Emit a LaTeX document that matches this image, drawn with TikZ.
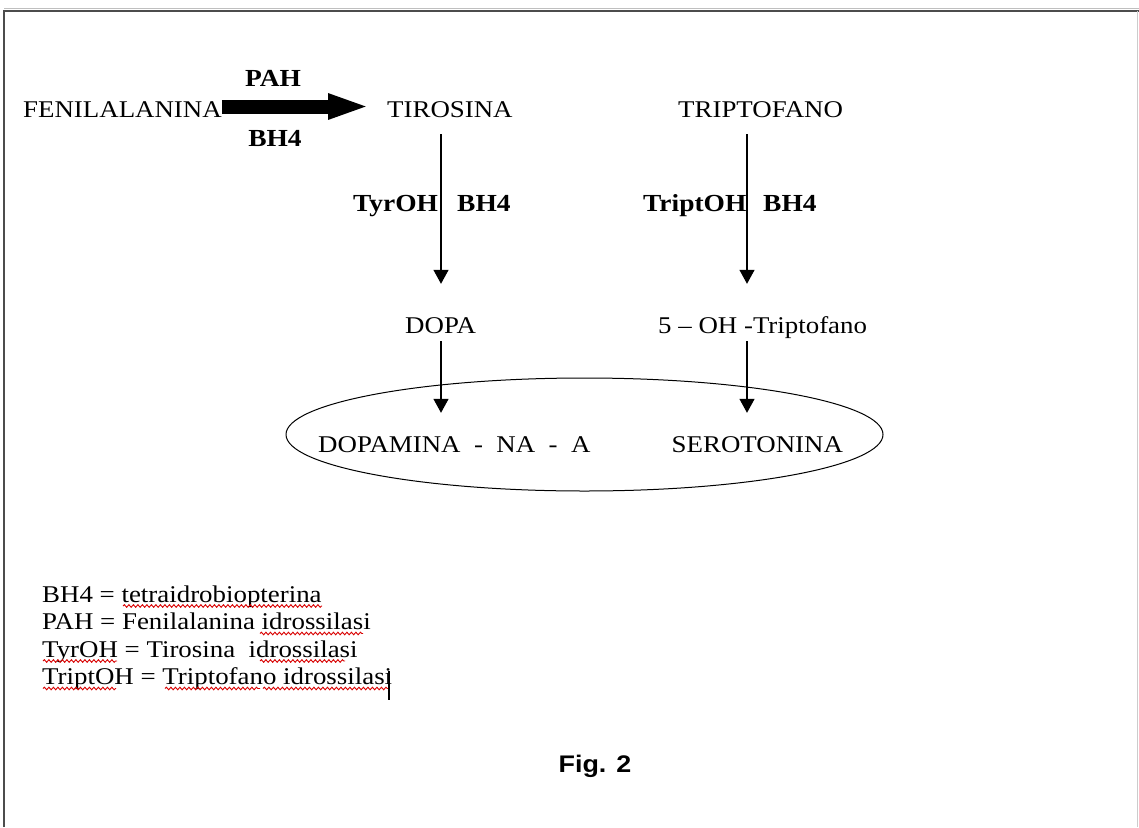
\documentclass[tikz,border=0pt]{standalone}
\usepackage{fontspec}
\setmainfont{Liberation Serif}[FakeStretch=1.12]
\newfontfamily\figfont{Liberation Sans}[FakeStretch=1.12]
\usetikzlibrary{arrows.meta,shapes.geometric,decorations.pathmorphing}
\begin{document}
\begin{tikzpicture}[x=1pt,y=-1pt,
  txt/.style={inner sep=0pt, anchor=base west, text height=16pt, text depth=0pt, font=\fontsize{24}{28}\selectfont},
  lbl/.style={txt, font=\fontsize{24.5}{28}\selectfont\bfseries},
  conn/.style={line width=1.4pt, -{Triangle[width=15pt,length=14pt]}},
  bigarrow/.style={line width=14pt, -{Triangle[width=23pt,length=42pt]}},
  wavy/.style={red!85!black, line width=0.9pt, decorate, decoration={snake, amplitude=1.3pt, segment length=4.5pt}}]
\fill[white] (0,0) rectangle (1139,827);
\useasboundingbox (0,0) rectangle (1139,827);
% frame
\draw[black!25, line width=1pt] (4,8.5) -- (1139,8.5);
\draw[black!70, line width=2pt] (4,827) -- (4,10.5) -- (1139,10.5);
\draw[black!20, line width=1pt] (1137.5,10.5) -- (1137.5,827);
% top row
\node[txt] (fen) at (23,117.5) {FENILALANINA};
\node[txt] (tir) at (387,117.5) {TIROSINA};
\node[txt] (tri) at (678,117.5) {TRIPTOFANO};
\node[lbl, anchor=base] (pah) at (273,86) {PAH};
\node[lbl, anchor=base] (bh1) at (275,146.5) {BH4};
% enzyme labels
\node[lbl] (tyr) at (353,211.5) {TyrOH};
\node[lbl] (bh2) at (457,211.5) {BH4};
\node[lbl] (trp) at (643,211.5) {TriptOH};
\node[lbl] (bh3) at (763,211.5) {BH4};
% intermediates
\node[txt] (dopa) at (405,333) {DOPA};
\node[txt] (oht) at (658,333) {5 -- OH -Triptofano};
% products
\node[draw, ellipse, line width=1pt, minimum width=597pt, minimum height=113pt, inner sep=0pt] (ell) at (584.5,434.5) {};
\node[txt] (dopam) at (318,452) {DOPAMINA\ \ -\ \ NA\ \ -\ \ A};
\node[txt] (sero) at (671.5,452) {SEROTONINA};
% connectors
\coordinate (xa) at (441,0);
\coordinate (xb) at (747,0);
\draw[bigarrow, shorten >=17pt] ([yshift=3pt]fen.east) -- ([yshift=3pt]tir.west);
\draw[conn, shorten <=16.5pt, shorten >=33pt] (tir.south -| xa) -- (dopa.north -| xa);
\draw[conn, shorten <=16.5pt, shorten >=33pt] (tri.south -| xb) -- (oht.north -| xb);
\draw[conn, shorten <=8pt, shorten >=23pt] (dopa.south -| xa) -- (dopam.north -| xa);
\draw[conn, shorten <=8pt, shorten >=23pt] (oht.south -| xb) -- (sero.north -| xb);
% legend
\node[txt] (l1) at (42,602) {BH4 = tetraidrobiopterina};
\node[txt] (l2) at (42,629.5) {PAH = Fenilalanina idrossilasi};
\node[txt] (l3) at (42,657) {TyrOH = Tirosina\ \ idrossilasi};
\node[txt] (l4) at (42,684.5) {TriptOH = Triptofano idrossilasi};
\draw[wavy] (123,606) -- (322,606);
\draw[wavy] (260,633.5) -- (363,633.5);
\draw[wavy] (43,661) -- (117,661);
\draw[wavy] (260,661) -- (345,661);
\draw[wavy] (43,688.5) -- (116,688.5);
\draw[wavy] (165,688.5) -- (260,688.5);
\draw[wavy] (263,688.5) -- (388,688.5);
\draw[line width=1.8pt] (389,671) -- (389,700);
% caption
\node[font=\figfont\fontsize{24}{28}\selectfont\bfseries, inner sep=0pt, anchor=base] (fig) at (595,772.5) {Fig. 2};
\end{tikzpicture}
\end{document}
